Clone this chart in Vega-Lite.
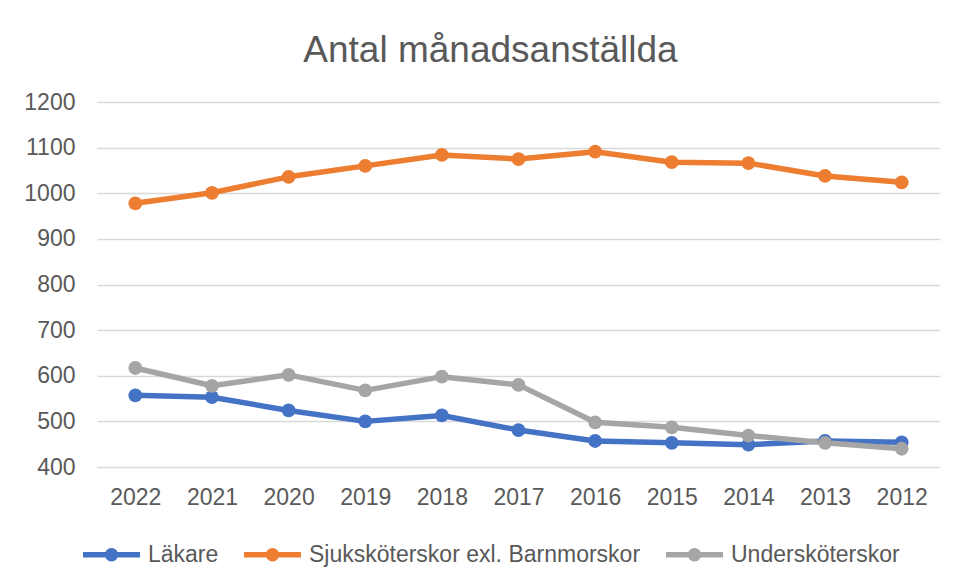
{
  "$schema": "https://vega.github.io/schema/vega-lite/v6.json",
  "autosize": "none",
  "width": 843,
  "height": 365,
  "padding": {"left": 97, "top": 102, "right": 18, "bottom": 113},
  "background": "white",
  "title": {"text": "Antal månadsanställda", "fontSize": 37, "font": "Liberation Sans", "fontWeight": "normal", "color": "#595959", "anchor": "middle", "offset": 21, "dx": -28},
  "config": {
    "view": {"stroke": null},
    "font": "Liberation Sans",
    "axis": {"labelFont": "Liberation Sans", "labelFontSize": 23, "labelColor": "#595959", "domain": false, "ticks": false, "title": null},
    "legend": {"labelFont": "Liberation Sans", "labelFontSize": 23, "labelColor": "#595959", "labelLimit": 0}
  },
  "data": {"values": [
    {"year": "2022", "series": "Läkare", "value": 557},
    {"year": "2021", "series": "Läkare", "value": 553},
    {"year": "2020", "series": "Läkare", "value": 524},
    {"year": "2019", "series": "Läkare", "value": 500},
    {"year": "2018", "series": "Läkare", "value": 513},
    {"year": "2017", "series": "Läkare", "value": 481},
    {"year": "2016", "series": "Läkare", "value": 457},
    {"year": "2015", "series": "Läkare", "value": 453},
    {"year": "2014", "series": "Läkare", "value": 449},
    {"year": "2013", "series": "Läkare", "value": 457},
    {"year": "2012", "series": "Läkare", "value": 454},
    {"year": "2022", "series": "Sjuksköterskor exl. Barnmorskor", "value": 978},
    {"year": "2021", "series": "Sjuksköterskor exl. Barnmorskor", "value": 1001},
    {"year": "2020", "series": "Sjuksköterskor exl. Barnmorskor", "value": 1036},
    {"year": "2019", "series": "Sjuksköterskor exl. Barnmorskor", "value": 1060},
    {"year": "2018", "series": "Sjuksköterskor exl. Barnmorskor", "value": 1084},
    {"year": "2017", "series": "Sjuksköterskor exl. Barnmorskor", "value": 1075},
    {"year": "2016", "series": "Sjuksköterskor exl. Barnmorskor", "value": 1091},
    {"year": "2015", "series": "Sjuksköterskor exl. Barnmorskor", "value": 1068},
    {"year": "2014", "series": "Sjuksköterskor exl. Barnmorskor", "value": 1066},
    {"year": "2013", "series": "Sjuksköterskor exl. Barnmorskor", "value": 1038},
    {"year": "2012", "series": "Sjuksköterskor exl. Barnmorskor", "value": 1024},
    {"year": "2022", "series": "Undersköterskor", "value": 617},
    {"year": "2021", "series": "Undersköterskor", "value": 578},
    {"year": "2020", "series": "Undersköterskor", "value": 602},
    {"year": "2019", "series": "Undersköterskor", "value": 568},
    {"year": "2018", "series": "Undersköterskor", "value": 598},
    {"year": "2017", "series": "Undersköterskor", "value": 580},
    {"year": "2016", "series": "Undersköterskor", "value": 498},
    {"year": "2015", "series": "Undersköterskor", "value": 487},
    {"year": "2014", "series": "Undersköterskor", "value": 469},
    {"year": "2013", "series": "Undersköterskor", "value": 453},
    {"year": "2012", "series": "Undersköterskor", "value": 440}
  ]},
  "encoding": {
    "x": {"field": "year", "type": "ordinal", "sort": "descending", "scale": {"type": "point", "padding": 0.5}, "axis": {"labelAngle": 0, "labelPadding": 19, "grid": false}},
    "y": {"field": "value", "type": "quantitative", "scale": {"domain": [400, 1200], "nice": false, "zero": false}, "axis": {"values": [400, 500, 600, 700, 800, 900, 1000, 1100, 1200], "format": "d", "labelPadding": 22, "gridColor": "#D9D9D9", "gridWidth": 1.3}},
    "color": {"field": "series", "type": "nominal", "scale": {"domain": ["Läkare", "Sjuksköterskor exl. Barnmorskor", "Undersköterskor"], "range": ["#4472C4", "#ED7D31", "#A5A5A5"]},
      "legend": {"title": null, "orient": "none", "direction": "horizontal", "legendX": -17, "legendY": 421, "symbolType": "M-1,0L1,0M-0.14,0A0.14,0.14,0,1,0,0.14,0A0.14,0.14,0,1,0,-0.14,0Z", "symbolSize": 3249, "symbolStrokeWidth": 5.5, "symbolOpacity": 1, "labelOffset": 5, "columnPadding": 14}}
  },
  "layer": [
    {"mark": {"type": "line", "strokeWidth": 5.5, "strokeCap": "round", "strokeJoin": "round"}},
    {"mark": {"type": "point", "filled": true, "size": 190, "opacity": 1}}
  ]
}
